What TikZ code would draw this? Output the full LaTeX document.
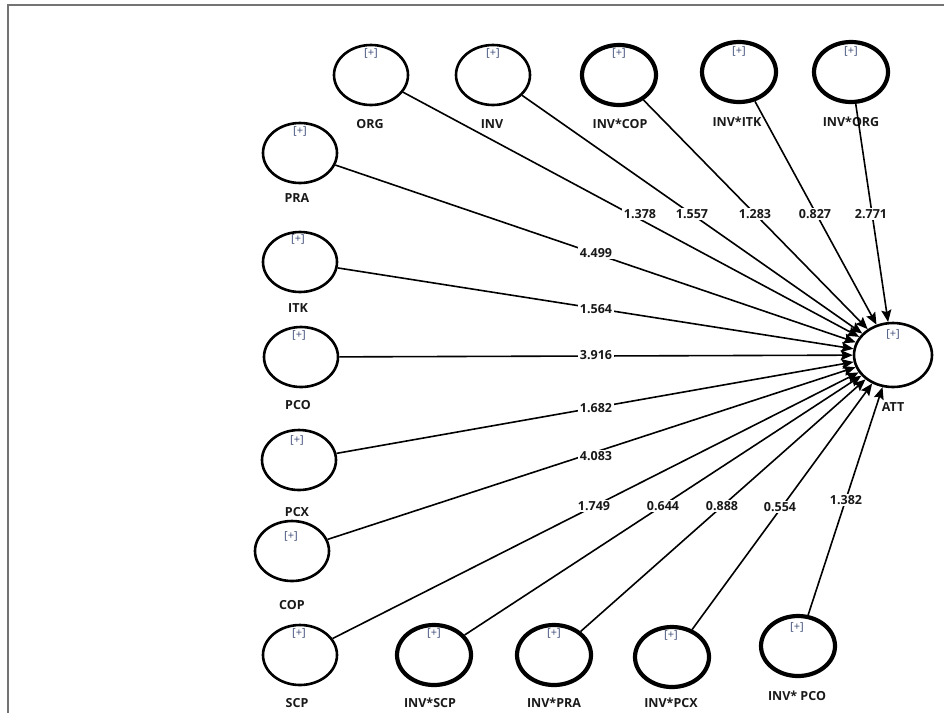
\documentclass[tikz,border=0pt]{standalone}
\usepackage{fontspec}
\setmainfont{Open Sans}
\usetikzlibrary{arrows.meta,shapes.geometric}
\definecolor{plc}{RGB}{60,75,120}
\begin{document}
\begin{tikzpicture}[x=1pt,y=-1pt,
  lv/.style={ellipse, draw, line width=2.6pt, minimum width=74pt, minimum height=60pt, inner sep=0pt},
  iv/.style={lv, line width=4.2pt},
  nm/.style={font=\bfseries\fontsize{12.5}{14}\selectfont, text=black!90, inner sep=0pt},
  pl/.style={font=\fontsize{11}{12}\selectfont, text=plc, inner sep=0pt},
  cn/.style={line width=1.6pt, -{Stealth[length=12pt,width=10pt,inset=2pt]}},
  vl/.style={fill=white, inner sep=1.5pt, font=\bfseries\fontsize{12.5}{14}\selectfont, text=black!90}
]
\useasboundingbox (0,0) rectangle (944,713);
\draw[line width=1.2pt, black!55] (8,713) -- (8,5) -- (944,5);

% target
\node[lv, minimum width=78pt, minimum height=64pt] (ATT) at (893,355) {};
\node[pl] (ATTp) at (893,334) {[+]};
\node[nm] (ATTl) at (893,407) {ATT};

% top row
\node[lv] (ORG) at (371,75) {};
\node[pl] (ORGp) at (371,53) {[+]};
\node[nm] (ORGl) at (370,124) {ORG};
\node[lv] (INV) at (493,75) {};
\node[pl] (INVp) at (493,53) {[+]};
\node[nm] (INVl) at (492,124) {INV};
\node[iv] (ICOP) at (619,75) {};
\node[pl] (ICOPp) at (619,53) {[+]};
\node[nm] (ICOPl) at (620,124) {INV*COP};
\node[iv] (IITK) at (739,72) {};
\node[pl] (IITKp) at (739,51) {[+]};
\node[nm] (IITKl) at (737,122) {INV*ITK};
\node[iv] (IORG) at (851,72) {};
\node[pl] (IORGp) at (851,51) {[+]};
\node[nm] (IORGl) at (851,122) {INV*ORG};

% left column
\node[lv] (PRA) at (300,153) {};
\node[pl] (PRAp) at (300,131) {[+]};
\node[nm] (PRAl) at (297,198) {PRA};
\node[lv] (ITK) at (300,262) {};
\node[pl] (ITKp) at (298,239) {[+]};
\node[nm] (ITKl) at (298,308) {ITK};
\node[lv] (PCO) at (301,357) {};
\node[pl] (PCOp) at (299,335) {[+]};
\node[nm] (PCOl) at (298,405) {PCO};
\node[lv] (PCX) at (299,460) {};
\node[pl] (PCXp) at (297,440) {[+]};
\node[nm] (PCXl) at (297,512) {PCX};
\node[lv] (COP) at (292,551) {};
\node[pl] (COPp) at (291,536) {[+]};
\node[nm] (COPl) at (292,605) {COP};

% bottom row
\node[lv] (SCP) at (300,655) {};
\node[pl] (SCPp) at (299,633) {[+]};
\node[nm] (SCPl) at (297,703) {SCP};
\node[iv] (ISCP) at (434,655) {};
\node[pl] (ISCPp) at (434,633) {[+]};
\node[nm] (ISCPl) at (430,703) {INV*SCP};
\node[iv] (IPRA) at (554,655) {};
\node[pl] (IPRAp) at (554,633) {[+]};
\node[nm] (IPRAl) at (554,703) {INV*PRA};
\node[iv] (IPCX) at (672,657) {};
\node[pl] (IPCXp) at (671,635) {[+]};
\node[nm] (IPCXl) at (671,703) {INV*PCX};
\node[iv] (IPCO) at (798,646) {};
\node[pl] (IPCOp) at (797,627) {[+]};
\node[nm] (IPCOl) at (797,696) {INV* PCO};

% connectors
\foreach \s in {ORG,INV,ICOP,IITK,IORG,PRA,ITK,PCO,PCX,COP,SCP,ISCP,IPRA,IPCX,IPCO}
  \draw[cn] (\s) -- (ATT);

% values
\node[vl] (v1) at (640,214) {1.378};
\node[vl] (v2) at (692,214) {1.557};
\node[vl] (v3) at (755,214) {1.283};
\node[vl] (v4) at (815,214) {0.827};
\node[vl] (v5) at (871,214) {2.771};
\node[vl] (v6) at (596,253) {4.499};
\node[vl] (v7) at (596,309) {1.564};
\node[vl] (v8) at (596,355) {3.916};
\node[vl] (v9) at (596,408) {1.682};
\node[vl] (v10) at (596,456) {4.083};
\node[vl] (v11) at (594,506) {1.749};
\node[vl] (v12) at (663,506) {0.644};
\node[vl] (v13) at (722,506) {0.888};
\node[vl] (v14) at (780,507) {0.554};
\node[vl] (v15) at (846,500) {1.382};
\end{tikzpicture}
\end{document}
